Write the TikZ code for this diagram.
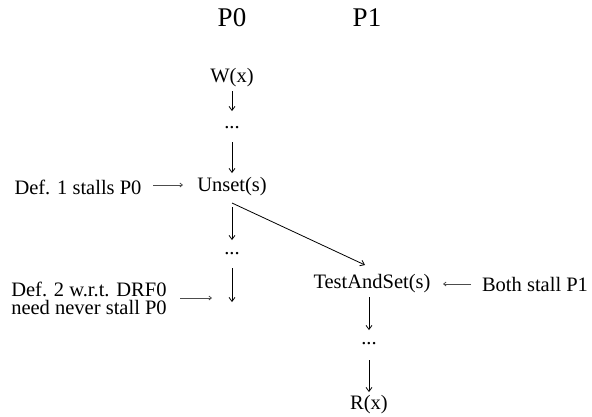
\documentclass[tikz,border=0pt]{standalone}
\usepackage{fontspec}
\setmainfont{Liberation Serif}
\usetikzlibrary{arrows.meta}
\begin{document}
\begin{tikzpicture}[x=1pt,y=-1pt,
  lbl/.style={inner sep=0pt,font=\fontsize{20.5}{18}\selectfont},
  hdr/.style={inner sep=0pt,font=\fontsize{27}{30}\selectfont},
  edge/.style={draw=black,line width=0.8pt,-{Straight Barb[length=4pt,width=6pt]}},
  note/.style={draw=black!70,line width=0.8pt,-{Straight Barb[length=2.5pt,width=4pt,open]}}]
\useasboundingbox (0,0) rectangle (592,416);
\node[hdr] (p0) at (232,18) {P0};
\node[hdr] (p1) at (367,18) {P1};
\node[lbl] (w) at (232,78) {W(x)};
\node[lbl] (d1) at (232,128) {...};
\node[lbl] (u) at (232,187) {Unset(s)};
\node[lbl] (d2) at (232,254) {...};
\coordinate (e2) at (232,302);
\node[lbl] (t) at (372,284) {TestAndSet(s)};
\node[lbl] (d3) at (369,344) {...};
\node[lbl] (r) at (369,405) {R(x)};
\node[lbl] (n1) at (78,187) {Def. 1 stalls P0};
\node[lbl,align=left] (n2) at (89,298) {Def. 2 w.r.t. DRF0\\need never stall P0};
\node[lbl] (n3) at (535,284) {Both stall P1};
\draw[edge] (232,91) -- (232,111);
\draw[edge] (232,142) -- (232,173);
\draw[edge] (232,207) -- (232,240);
\draw[edge] (232,268) -- (e2);
\draw[edge] (232,203) -- (365,265);
\draw[edge] (369,297) -- (369,330);
\draw[edge] (369,360) -- (369,392);
\draw[note] (153,185) -- (183,185);
\draw[note] (180,298) -- (212,298);
\draw[note] (471,284) -- (443,284);
\end{tikzpicture}
\end{document}
